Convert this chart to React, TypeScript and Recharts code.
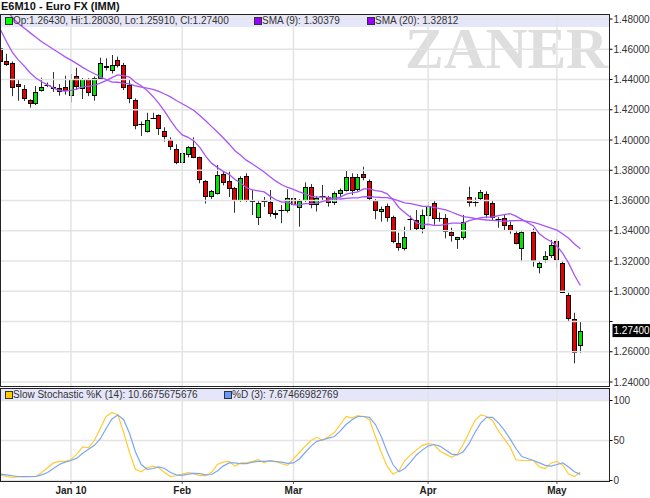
import React from 'react';
import { ComposedChart, Bar, Line, XAxis, YAxis, ReferenceLine } from 'recharts';

const opens = [1.4610,1.4520,1.4510,1.4370,1.4335,1.4265,1.4247,1.4331,1.4366,1.4352,1.4346,1.4352,1.4298,1.4425,1.4346,1.4403,1.4298,1.4408,1.4485,1.4463,1.4529,1.4496,1.4364,1.4265,1.4106,1.4060,1.4144,1.4164,1.4060,1.4000,1.3943,1.3853,1.3906,1.3956,1.3885,1.3727,1.3630,1.3652,1.3775,1.3729,1.3681,1.3603,1.3762,1.3598,1.3493,1.3600,1.3588,1.3520,1.3537,1.3537,1.3615,1.3560,1.3603,1.3687,1.3575,1.3632,1.3625,1.3592,1.3652,1.3669,1.3757,1.3674,1.3773,1.3730,1.3603,1.3532,1.3564,1.3493,1.3321,1.3284,1.3475,1.3471,1.3416,1.3504,1.3582,1.3483,1.3483,1.3394,1.3346,1.3357,1.3625,1.3592,1.3615,1.3645,1.3582,1.3478,1.3487,1.3438,1.3387,1.3288,null,1.3390,1.3162,1.3211,1.3240,1.3334,1.3185,1.2975,1.2815,1.2643];
const highs = [1.4630,1.4570,1.4520,1.4400,1.4363,1.4270,1.4357,1.4412,1.4380,1.4450,1.4370,1.4425,1.4436,1.4478,1.4410,1.4410,1.4420,1.4544,1.4540,1.4562,1.4551,1.4510,1.4397,1.4275,1.4122,1.4180,1.4180,1.4170,1.4084,1.4018,1.3972,1.3930,1.3960,1.4018,1.3890,1.3735,1.3670,1.3835,1.3790,1.3790,1.3690,1.3760,1.3780,1.3670,1.3600,1.3623,1.3670,1.3535,1.3570,1.3674,1.3650,1.3610,1.3720,1.3709,1.3630,1.3703,1.3630,1.3660,1.3680,1.3800,1.3780,1.3775,1.3823,1.3740,1.3610,1.3560,1.3580,1.3500,1.3387,1.3427,1.3500,1.3537,1.3540,1.3592,1.3600,1.3520,1.3510,1.3420,1.3360,1.3504,1.3691,1.3620,1.3670,1.3660,1.3600,1.3490,1.3510,1.3460,1.3400,1.3400,null,1.3415,1.3200,1.3265,1.3339,1.3345,1.3200,1.2990,1.2858,1.2803];
const lows = [1.4500,1.4490,1.4290,1.4260,1.4258,1.4214,1.4231,1.4320,1.4350,1.4318,1.4293,1.4300,1.4249,1.4331,1.4271,1.4290,1.4260,1.4400,1.4460,1.4440,1.4480,1.4330,1.4243,1.4071,1.4027,1.4050,1.4140,1.4033,1.3989,1.3934,1.3840,1.3835,1.3885,1.3880,1.3714,1.3580,1.3610,1.3640,1.3700,1.3623,1.3519,1.3590,1.3590,1.3504,1.3438,1.3557,1.3493,1.3480,1.3450,1.3520,1.3460,1.3427,1.3590,1.3549,1.3527,1.3592,1.3560,1.3570,1.3620,1.3660,1.3636,1.3660,1.3734,1.3600,1.3476,1.3460,1.3460,1.3317,1.3268,1.3270,1.3400,1.3400,1.3383,1.3460,1.3440,1.3460,1.3350,1.3328,1.3280,1.3340,1.3560,1.3560,1.3600,1.3483,1.3471,1.3420,1.3405,1.3380,1.3310,1.3200,null,1.3162,1.3118,1.3190,1.3220,1.3152,1.2990,1.2800,1.2524,1.2591];
const closes = [1.4520,1.4500,1.4350,1.4360,1.4280,1.4243,1.4320,1.4348,1.4366,1.4342,1.4324,1.4331,1.4401,1.4359,1.4401,1.4315,1.4408,1.4507,1.4492,1.4496,1.4496,1.4348,1.4280,1.4097,1.4106,1.4129,1.4144,1.4078,1.4027,1.3960,1.3853,1.3912,1.3952,1.3890,1.3740,1.3630,1.3663,1.3769,1.3724,1.3681,1.3603,1.3747,1.3603,1.3606,1.3582,1.3600,1.3516,1.3510,1.3537,1.3615,1.3575,1.3597,1.3691,1.3575,1.3615,1.3632,1.3592,1.3648,1.3669,1.3757,1.3669,1.3757,1.3753,1.3615,1.3537,1.3543,1.3493,1.3333,1.3290,1.3360,1.3478,1.3420,1.3504,1.3564,1.3483,1.3483,1.3398,1.3372,1.3357,1.3456,1.3588,1.3592,1.3654,1.3509,1.3493,1.3478,1.3438,1.3405,1.3317,1.3390,null,1.3207,1.3185,1.3235,1.3306,1.3211,1.2997,1.2822,1.2600,1.2740];
const sma9 = [1.4727,1.4650,1.4580,1.4530,1.4490,1.4445,1.4410,1.4385,1.4365,1.4345,1.4326,1.4324,1.4328,1.4337,1.4355,1.4354,1.4361,1.4376,1.4393,1.4412,1.4431,1.4425,1.4416,1.4382,1.4359,1.4328,1.4288,1.4242,1.4189,1.4130,1.4075,1.4034,1.4018,1.3994,1.3951,1.3894,1.3847,1.3819,1.3793,1.3773,1.3739,1.3716,1.3684,1.3670,1.3664,1.3657,1.3629,1.3605,1.3589,1.3591,1.3572,1.3571,1.3580,1.3580,1.3581,1.3594,1.3603,1.3616,1.3622,1.3642,1.3650,1.3657,1.3677,1.3677,1.3666,1.3661,1.3644,1.3606,1.3554,1.3520,1.3489,1.3452,1.3440,1.3443,1.3436,1.3435,1.3442,1.3451,1.3451,1.3449,1.3467,1.3477,1.3487,1.3490,1.3491,1.3500,1.3507,1.3513,1.3497,1.3475,null,1.3432,1.3380,1.3350,1.3329,1.3299,1.3250,1.3186,1.3106,1.3038];
const sma20 = [1.4900,1.4860,1.4810,1.4770,1.4740,1.4710,1.4680,1.4650,1.4625,1.4600,1.4575,1.4550,1.4528,1.4505,1.4480,1.4458,1.4438,1.4420,1.4400,1.4383,1.4382,1.4374,1.4371,1.4358,1.4349,1.4343,1.4335,1.4321,1.4304,1.4285,1.4261,1.4240,1.4218,1.4195,1.4162,1.4127,1.4090,1.4053,1.4015,1.3974,1.3929,1.3899,1.3865,1.3841,1.3815,1.3788,1.3757,1.3728,1.3704,1.3687,1.3673,1.3657,1.3644,1.3628,1.3622,1.3622,1.3619,1.3612,1.3610,1.3614,1.3617,1.3617,1.3625,1.3625,1.3623,1.3620,1.3619,1.3610,1.3598,1.3585,1.3580,1.3571,1.3562,1.3561,1.3555,1.3547,1.3538,1.3524,1.3508,1.3493,1.3489,1.3481,1.3476,1.3471,1.3469,1.3465,1.3463,1.3466,1.3467,1.3469,null,1.3455,1.3444,1.3430,1.3417,1.3404,1.3379,1.3351,1.3312,1.3281];
const stochK = [6.8,5,4,4.5,4.8,5,5,10,16,22,24,24,26,33,42,41,50,65,80,85,82,60,35,14,11,16,18,16,10,5,6,8,10,9,6,6,10,20,23,24,18,22,22,24,26,22,25,24,21,19,27,35,43,50,54,50,55,60,70,80,78,81,80,76,55,35,18,8,12,25,32,38,44,46,45,37,33,29,33,45,60,75,82,80,75,62,52,42,26,25,null,25,17,15,22,24,19,8,5,10.67];
const stochD = [8,7,6,5,4.8,4.8,5,7,10,15,20,23,25,28,34,39,44,52,65,77,82,76,59,36,20,14,15,17,15,10,7,6.5,8,9,8.5,7,7.5,12,18,22,22,21,21,23,24,24,24.5,23.5,23,21.5,22,27,35,43,49,51,53,55,62,70,76,80,80,79,70,55,36,20,11,15,23,32,38,43,45,43,38,33,32,36,46,60,72,79,79,72,63,52,40,30,null,25,22,19,18,20,22,17,11,7.67];

const monthTicks = [12, 31, 50, 73, 95];
const monthLabels = ['Jan 10', 'Feb', 'Mar', 'Apr', 'May'];
const priceTicks = [1.24, 1.26, 1.28, 1.30, 1.32, 1.34, 1.36, 1.38, 1.40, 1.42, 1.44, 1.46, 1.48];
const hiddenPriceLabel = 1.28;
const lastClose = 1.274;
const stochTicks = [0, 50, 100];

const data = opens.map((o, i) => ({
  i,
  range: o == null ? null : [lows[i], highs[i]],
  open: o,
  high: highs[i],
  low: lows[i],
  close: closes[i],
  sma9: sma9[i],
  sma20: sma20[i],
  k: stochK[i],
  d: stochD[i],
}));

const FONT = '"Liberation Sans", Arial, Helvetica, sans-serif';
const GREEN = '#00e400';
const RED = '#e80000';
const GRID = '#e3e3e3';
const X_DOMAIN: [number, number] = [-0.12, 103.98];

const Candle = (props: any) => {
  let { x, y, width, height, payload } = props;
  if (!payload || payload.open == null || height == null || isNaN(height)) return null;
  if (height < 0) { y = y + height; height = -height; }
  const { open, close, high, low } = payload;
  const span = high - low;
  const toY = (p: number) => y + (span === 0 ? 0 : ((high - p) / span) * height);
  const cx = Math.round(x + width / 2);
  const wx = cx + 0.5;
  const yO = toY(open);
  const yC = toY(close);
  const top = Math.round(Math.min(yO, yC));
  const bot = Math.round(Math.max(yO, yC));
  const up = close > open;
  const flat = bot - top < 1;
  return (
    <g>
      <line x1={wx} x2={wx} y1={y} y2={y + height} stroke="#333" strokeWidth={1} />
      {flat ? (
        <line x1={cx - 2.5} x2={cx + 3.5} y1={top + 0.5} y2={top + 0.5} stroke="#000" strokeWidth={1} />
      ) : (
        <rect x={cx - 1.5} y={top + 0.5} width={4} height={bot - top} fill={up ? GREEN : RED} stroke="#000" strokeWidth={1} />
      )}
    </g>
  );
};

const PriceTick = (props: any) => {
  const { x, y, payload } = props;
  const v = payload.value as number;
  if (Math.abs(v - lastClose) < 1e-9) {
    return (
      <g>
        <rect x={x - 1} y={y - 6.5} width={40} height={13} fill="#000" />
        <text x={x} y={y} dy={3.6} fill="#fff" fontSize={10} fontFamily={FONT}>{v.toFixed(5)}</text>
      </g>
    );
  }
  const hide = Math.abs(v - hiddenPriceLabel) < 1e-9;
  return (
    <g>
      <line x1={x - 4} x2={x - 1} y1={y} y2={y} stroke="#000" strokeWidth={1} />
      {!hide && <text x={x} y={y} dy={3.6} fill="#333" fontSize={10} fontFamily={FONT}>{v.toFixed(5)}</text>}
    </g>
  );
};

const StochTick = (props: any) => {
  const { x, y, payload } = props;
  return (
    <g>
      <line x1={x - 4} x2={x - 1} y1={y} y2={y} stroke="#000" strokeWidth={1} />
      <text x={x} y={y} dy={3.6} fill="#333" fontSize={10} fontFamily={FONT}>{payload.value}</text>
    </g>
  );
};

const Square = ({ left, top, color }: { left: number; top: number; color: string }) => (
  <div style={{ position: 'absolute', left, top, width: 6, height: 6, background: color, border: '1px solid #333' }} />
);

const LegendText = ({ left, top, children }: { left: number; top: number; children: React.ReactNode }) => (
  <div style={{ position: 'absolute', left, top, fontSize: 10, lineHeight: '13px', color: '#333', whiteSpace: 'nowrap', fontFamily: FONT }}>{children}</div>
);

export default function App() {
  return (
    <div style={{ position: 'absolute', left: 0, top: 0, width: 650, height: 498, background: '#fff', overflow: 'hidden', fontFamily: FONT }}>
      <div style={{ position: 'absolute', left: 1, top: 0, fontSize: 11, fontWeight: 'bold', lineHeight: '12px', color: '#111' }}>E6M10 - Euro FX (IMM)</div>

      <div style={{ position: 'absolute', left: 0, top: 14, width: 610, height: 13, background: '#e6e6fa' }} />
      <div style={{ position: 'absolute', left: 0, top: 388, width: 610, height: 13, background: '#e6e6fa' }} />

      <svg style={{ position: 'absolute', left: 0, top: 0 }} width={650} height={120}>
        <text x={608} y={68} textAnchor="end" fontFamily='"Liberation Serif", "Times New Roman", serif' fontWeight="bold" fontSize={58} fill="#dedede">ZANER</text>
      </svg>

      <div style={{ position: 'absolute', left: 0, top: 0, zIndex: 1 }}>
        <ComposedChart width={650} height={400} data={data} margin={{ top: 14, right: 0, bottom: 14, left: 0 }}>
          <XAxis dataKey="i" type="number" domain={X_DOMAIN} allowDataOverflow hide />
          <YAxis orientation="right" width={40.5} domain={[1.23736, 1.48331]} allowDataOverflow ticks={[...priceTicks, lastClose]} interval={0} tick={<PriceTick />} tickLine={false} axisLine={false} tickSize={4} tickMargin={0} />
          {priceTicks.map((v) => (
            <ReferenceLine key={'h' + v} y={v} stroke={GRID} strokeWidth={1.5} />
          ))}
          {monthTicks.map((v) => (
            <ReferenceLine key={'v' + v} x={v} stroke={GRID} strokeWidth={1.5} />
          ))}
          <Bar dataKey="range" shape={<Candle />} barSize={5} isAnimationActive={false} />
          <Line dataKey="sma20" stroke="#a855f7" strokeWidth={1.3} dot={false} connectNulls isAnimationActive={false} />
          <Line dataKey="sma9" stroke="#a855f7" strokeWidth={1.3} dot={false} connectNulls isAnimationActive={false} />
        </ComposedChart>
      </div>

      <div style={{ position: 'absolute', left: 0, top: 387, zIndex: 1 }}>
        <ComposedChart width={650} height={111} data={data} margin={{ top: 0, right: 0, bottom: 0, left: 0 }}>
          <XAxis dataKey="i" type="number" domain={X_DOMAIN} allowDataOverflow ticks={monthTicks} interval={0} height={17}
            tickFormatter={(v: number) => monthLabels[monthTicks.indexOf(v)]}
            axisLine={false} tickLine={{ stroke: '#555' }} tickSize={3} tickMargin={3}
            tick={{ fontSize: 10, fontWeight: 'bold', fill: '#222', fontFamily: FONT }} />
          <YAxis orientation="right" width={40.5} domain={[-0.6, 116.9]} allowDataOverflow ticks={stochTicks} interval={0} tick={<StochTick />} tickLine={false} axisLine={false} tickSize={4} tickMargin={0} />
          {stochTicks.map((v) => (
            <ReferenceLine key={'sh' + v} y={v} stroke={GRID} strokeWidth={1.5} />
          ))}
          {monthTicks.map((v) => (
            <ReferenceLine key={'sv' + v} x={v} stroke={GRID} strokeWidth={1.5} />
          ))}
          <Line dataKey="k" stroke="#ffcc33" strokeWidth={1.2} dot={false} connectNulls isAnimationActive={false} />
          <Line dataKey="d" stroke="#7ea6f0" strokeWidth={1.2} dot={false} connectNulls isAnimationActive={false} />
        </ComposedChart>
      </div>

      <div style={{ position: 'absolute', left: 0, top: 14, width: 610, height: 373, border: '1px solid #222', boxSizing: 'border-box', zIndex: 2 }} />
      <div style={{ position: 'absolute', left: 0, top: 388, width: 610, height: 94, border: '1px solid #222', boxSizing: 'border-box', zIndex: 2 }} />

      <div style={{ position: 'absolute', left: 0, top: 0, zIndex: 3 }}>
        <Square left={5} top={17} color="#00ff00" />
        <LegendText left={13} top={14}>Op:1.26430, Hi:1.28030, Lo:1.25910, Cl:1.27400</LegendText>
        <Square left={254} top={17} color="#9900ff" />
        <LegendText left={262} top={14}>SMA (9): 1.30379</LegendText>
        <Square left={367} top={17} color="#9900ff" />
        <LegendText left={375} top={14}>SMA (20): 1.32812</LegendText>
        <Square left={5} top={391} color="#ffcc00" />
        <LegendText left={13} top={388}>Slow Stochastic %K (14): 10.6675675676</LegendText>
        <Square left={224} top={391} color="#6699ff" />
        <LegendText left={232} top={388}>%D (3): 7.67466982769</LegendText>
      </div>
    </div>
  );
}
